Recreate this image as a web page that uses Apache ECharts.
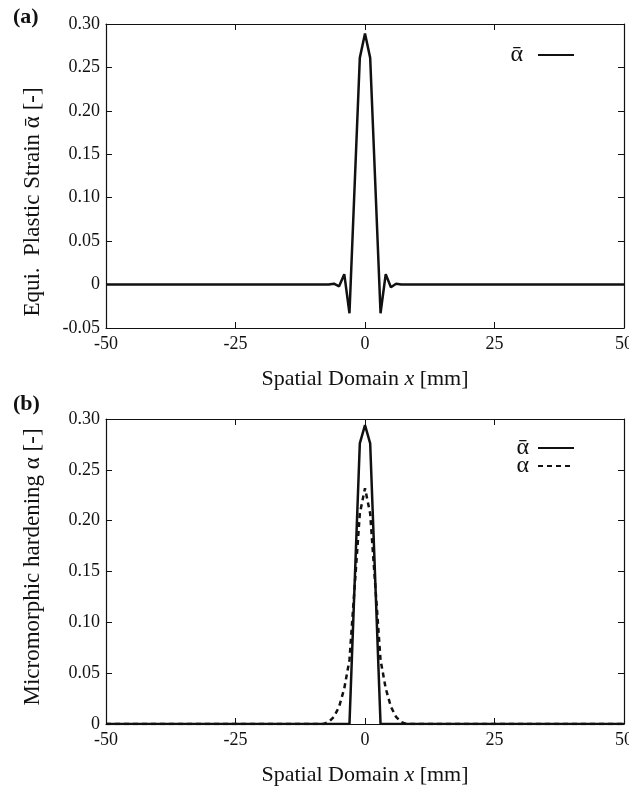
<!DOCTYPE html>
<html>
<head>
<meta charset="utf-8">
<script src="https://cdn.jsdelivr.net/npm/echarts@6/dist/echarts.min.js"></script>
<style>
  html, body { margin: 0; padding: 0; background: #fff; }
  #chart { width: 629px; height: 792px; }
</style>
</head>
<body>
<div id="chart"></div>
<script>
  // panel (a): equivalent plastic strain
  var xA = [-50, -7, -6, -5, -4, -3, -1, 0, 1, 3, 4, 5, 6, 7, 50];
  var strainA = [0, 0, 0.001, -0.002, 0.012, -0.033, 0.261, 0.289, 0.261, -0.033, 0.012, -0.003, 0.001, 0, 0];
  // panel (b): micromorphic hardening
  var xBar = [-50, -3, -1, 0, 1, 3, 50];
  var alphaBar = [0, 0, 0.276, 0.294, 0.276, 0, 0];
  var xMicro = [-50, -8, -7, -6, -5, -4, -3, -2, -1, 0, 1, 2, 3, 4, 5, 6, 7, 8, 50];
  var alphaMicro = [0, 0, 0.002, 0.007, 0.017, 0.035, 0.063, 0.135, 0.207, 0.232, 0.207, 0.135, 0.063, 0.035, 0.017, 0.007, 0.002, 0, 0];

  var FONT = '"Liberation Serif", "DejaVu Serif", serif';

  function pairs(xs, ys) {
    return xs.map(function (x, i) { return [x, ys[i]]; });
  }

  function xAxes(grid) {
    return [{
      type: 'value', gridIndex: grid, min: -50, max: 50, interval: 25,
      name: '{n|Spatial Domain }{i|x}{n| [mm]}',
      nameLocation: 'middle', nameGap: 40,
      nameTextStyle: { rich: {
        n: { fontFamily: FONT, fontSize: 22, color: '#111' },
        i: { fontFamily: FONT, fontSize: 22, color: '#111', fontStyle: 'italic' }
      } },
      axisLine: { onZero: false, lineStyle: { color: '#111', width: 1.2 } },
      axisTick: { inside: true, length: 6, lineStyle: { color: '#111' } },
      axisLabel: { fontFamily: FONT, fontSize: 18, color: '#111', margin: 7 },
      splitLine: { show: false }
    }, {
      type: 'value', gridIndex: grid, position: 'top', min: -50, max: 50, interval: 25,
      axisLine: { onZero: false, lineStyle: { color: '#111', width: 1.2 } },
      axisTick: { inside: true, length: 6, lineStyle: { color: '#111' } },
      axisLabel: { show: false }, splitLine: { show: false }
    }];
  }

  function yAxes(grid, min) {
    var common = {
      type: 'value', gridIndex: grid, min: min, max: 0.30, interval: 0.05,
      axisLine: { show: true, onZero: false, lineStyle: { color: '#111', width: 1.2 } },
      axisTick: { show: true, inside: true, length: 6, lineStyle: { color: '#111' } },
      splitLine: { show: false }
    };
    return [Object.assign({}, common, {
      axisLabel: {
        fontFamily: FONT, fontSize: 18, color: '#111', margin: 6,
        formatter: function (v) { return Math.abs(v) < 1e-9 ? '0' : v.toFixed(2); }
      }
    }), Object.assign({}, common, { position: 'right', axisLabel: { show: false } })];
  }

  var chart = echarts.init(document.getElementById('chart'), null, { renderer: 'canvas' });

  var legendCommon = {
    align: 'right', orient: 'vertical', itemWidth: 36, itemHeight: 14,
    itemStyle: { opacity: 0 },
    textStyle: { fontFamily: FONT, fontSize: 24, color: '#111', padding: [0, 4, 0, 0] }
  };

  var option = {
    animation: false,
    backgroundColor: '#fff',
    grid: [
      { left: 106, right: 5, top: 24, height: 304, outerBoundsMode: 'none' },
      { left: 106, right: 5, top: 419, height: 305, outerBoundsMode: 'none' }
    ],
    xAxis: xAxes(0).concat(xAxes(1)),
    yAxis: yAxes(0, -0.05).concat(yAxes(1, 0)),
    legend: [
      Object.assign({ data: ['ᾱ '], right: 49, top: 38 }, legendCommon),
      Object.assign({ data: ['ᾱ', 'α'], right: 49, top: 431, itemGap: -6 }, legendCommon)
    ],
    graphic: [
      { type: 'text', left: 13, top: 6, style: { text: '(a)', font: 'bold 22px ' + FONT, fill: '#111' } },
      { type: 'text', left: 13, top: 393, style: { text: '(b)', font: 'bold 22px ' + FONT, fill: '#111' } },
      { type: 'text', x: 33, y: 202, rotation: Math.PI / 2,
        style: { text: 'Equi.  Plastic Strain ᾱ [-]', font: '23px ' + FONT, fill: '#111',
                 align: 'center', verticalAlign: 'middle' } },
      { type: 'text', x: 33, y: 567, rotation: Math.PI / 2,
        style: { text: 'Micromorphic hardening α [-]', font: '23px ' + FONT, fill: '#111',
                 align: 'center', verticalAlign: 'middle' } }
    ],
    series: [{
      name: 'ᾱ ', type: 'line', xAxisIndex: 0, yAxisIndex: 0,
      data: pairs(xA, strainA), symbol: 'none',
      lineStyle: { color: '#111', width: 2.5 }, itemStyle: { color: '#111' }
    }, {
      name: 'ᾱ', type: 'line', xAxisIndex: 2, yAxisIndex: 2,
      data: pairs(xBar, alphaBar), symbol: 'none', z: 3,
      lineStyle: { color: '#111', width: 2.5 }, itemStyle: { color: '#111' }
    }, {
      name: 'α', type: 'line', xAxisIndex: 2, yAxisIndex: 2,
      data: pairs(xMicro, alphaMicro), symbol: 'none', z: 2,
      lineStyle: { color: '#111', width: 2.5, type: [5, 4] }, itemStyle: { color: '#111' }
    }]
  };

  chart.setOption(option);
</script>
</body>
</html>
